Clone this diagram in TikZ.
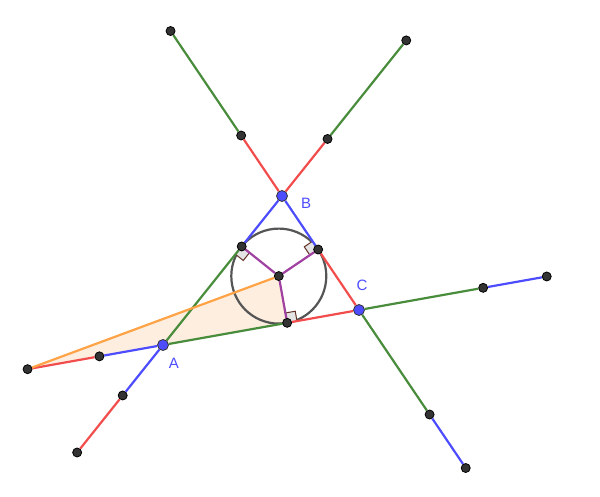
\documentclass[tikz,border=0pt]{standalone}
\usepackage{fontspec}
\setsansfont{Liberation Sans}
\usetikzlibrary{backgrounds}

\definecolor{ggblue}{RGB}{77,77,255}
\definecolor{ggred}{RGB}{242,77,77}
\definecolor{gggreen}{RGB}{72,140,60}
\definecolor{ggorange}{RGB}{255,163,70}
\definecolor{ggfill}{RGB}{253,238,224}
\definecolor{ggpurple}{RGB}{160,64,160}
\definecolor{ggcircle}{RGB}{85,85,85}
\definecolor{ggdot}{RGB}{51,51,51}
\definecolor{ggangle}{RGB}{100,50,40}
\definecolor{ggsquare}{RGB}{228,228,228}

\begin{document}
\begin{tikzpicture}[
		x=1pt, y=-1pt,
		seg/.style={line width=2.2pt},
		dot/.style={circle,fill=ggdot,draw=black,line width=0.8pt,inner sep=0pt,minimum size=9pt},
		vertex/.style={circle,fill=ggblue,draw=ggdot,line width=0.8pt,inner sep=0pt,minimum size=11pt},
		lbl/.style={text=ggblue,font=\sffamily\fontsize{15}{18}\selectfont},
		rangle/.style={draw=ggangle,fill=ggsquare,line width=1pt}
	]
	\useasboundingbox (0,0) rectangle (600,497);

	% triangle and incentre
	\node[vertex] (A) at (163,345)	{};
	\node[vertex] (B) at (282,196)	{};
	\node[vertex] (C) at (359,310)	{};
	\node[dot] (I) at (278.8,276.1)	{};

	% points of contact
	\node[dot] (ta) at (241.70,246.46)	{};
	\node[dot] (tb) at (318.15,249.52)	{};
	\node[dot] (tc) at (287.15,322.83)	{};

	% tangent lengths laid off beyond the vertices
	\node[dot] (a1) at (99.43,356.35)	{};
	\node[dot] (a2) at (27.57,369.18)	{};
	\node[dot] (a3) at (122.70,395.46)	{};
	\node[dot] (a4) at (77.15,452.49)	{};
	\node[dot] (b1) at (327.55,138.97)	{};
	\node[dot] (b2) at (406.25,40.43)	{};
	\node[dot] (b3) at (241.15,135.51)	{};
	\node[dot] (b4) at (170.56,31.01)	{};
	\node[dot] (c1) at (483.15,287.83)	{};
	\node[dot] (c2) at (546.72,276.48)	{};
	\node[dot] (c3) at (429.59,414.51)	{};
	\node[dot] (c4) at (465.73,468.02)	{};

	\node[lbl] (labA) at (174,363)	{A};
	\node[lbl] (labB) at (306,203)	{B};
	\node[lbl] (labC) at (362,285)	{C};

	\begin{pgfonlayer}{background}
		\fill[ggfill] (a2.center) -- (I.center) -- (tc.center) -- cycle;
		\draw[seg,ggcircle] (I.center) circle (47.5pt);
		\draw[rangle] (ta.center) -- (235.46,254.27) -- (243.27,260.51) -- (249.51,252.70) -- cycle;
		\draw[rangle] (tb.center) -- (312.55,241.23) -- (304.27,246.83) -- (309.86,255.12) -- cycle;
		\draw[rangle] (tc.center) -- (297.00,321.07) -- (295.24,311.23) -- (285.39,312.99) -- cycle;
	\end{pgfonlayer}

	\foreach \from/\to/\col in {
		A/ta/gggreen,
		ta/B/ggblue,
		B/tb/ggblue,
		tb/C/ggred,
		C/tc/ggred,
		tc/A/gggreen,
		A/a1/ggblue,
		a1/a2/ggred,
		A/a3/ggblue,
		a3/a4/ggred,
		B/b1/ggred,
		b1/b2/gggreen,
		B/b3/ggred,
		b3/b4/gggreen,
		C/c1/gggreen,
		c1/c2/ggblue,
		C/c3/gggreen,
		c3/c4/ggblue,
		I/ta/ggpurple,
		I/tb/ggpurple,
		I/tc/ggpurple,
		a2/I/ggorange}
		\draw[seg,\col] (\from) -- (\to);

\end{tikzpicture}
\end{document}
